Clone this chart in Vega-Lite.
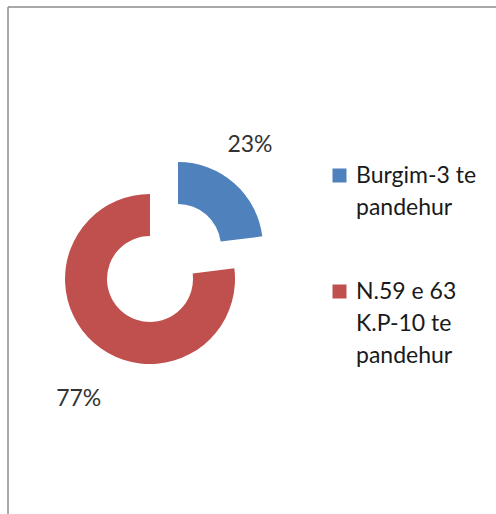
{
  "$schema": "https://vega.github.io/schema/vega-lite/v6.json",
  "width": 488,
  "height": 507,
  "padding": {"left": 8, "top": 7, "right": 0, "bottom": 0},
  "autosize": {"type": "none"},
  "background": "white",
  "view": {"stroke": null},
  "config": {
    "view": {"stroke": null},
    "style": {"guide-label": {"lineHeight": 32}}
  },
  "data": {
    "values": [
      {"category": "Burgim-3 te pandehur", "value": 23, "label": "23%"},
      {"category": "N.59 e 63 K.P-10 te pandehur", "value": 77, "label": "77%"}
    ]
  },
  "transform": [
    {"stack": "value", "groupby": [], "sort": [{"field": "category", "order": "ascending"}], "as": ["v0", "v1"]}
  ],
  "layer": [
    {
      "mark": {"type": "rule", "color": "#8c8c8c", "strokeWidth": 1},
      "encoding": {"x": {"value": 0}, "y": {"value": 0}, "y2": {"value": "height"}}
    },
    {
      "mark": {"type": "rule", "color": "#8c8c8c", "strokeWidth": 1},
      "encoding": {"y": {"value": 0}, "x": {"value": 0}, "x2": {"value": "width"}}
    },
    {
      "transform": [{"filter": "datum.category == 'N.59 e 63 K.P-10 te pandehur'"}],
      "mark": {"type": "arc", "x": 142, "y": 272, "radius": 85, "radius2": 43},
      "encoding": {
        "theta": {"field": "v0", "type": "quantitative", "scale": {"domain": [0, 100]}},
        "theta2": {"field": "v1"},
        "color": {
          "field": "category",
          "type": "nominal",
          "scale": {"domain": ["Burgim-3 te pandehur", "N.59 e 63 K.P-10 te pandehur"], "range": ["#4f81bd", "#c0504d"]},
          "legend": {
            "orient": "none",
            "legendX": 320,
            "legendY": 157,
            "title": null,
            "symbolType": "square",
            "symbolSize": 196,
            "symbolStrokeWidth": 0,
            "labelFont": "Lato",
            "labelFontSize": 23,
            "labelColor": "#1a1a1a",
            "labelLimit": 300,
            "labelOffset": 5,
            "rowPadding": 60,
            "labelExpr": "datum.label == 'Burgim-3 te pandehur' ? ['Burgim-3 te', 'pandehur'] : ['N.59 e 63', 'K.P-10 te', 'pandehur']"
          }
        }
      }
    },
    {
      "transform": [{"filter": "datum.category == 'Burgim-3 te pandehur'"}],
      "mark": {"type": "arc", "x": 170, "y": 240, "radius": 85, "radius2": 43},
      "encoding": {
        "theta": {"field": "v0", "type": "quantitative", "scale": {"domain": [0, 100]}},
        "theta2": {"field": "v1"},
        "color": {"field": "category", "type": "nominal"}
      }
    },
    {
      "mark": {"type": "text", "x": 160, "y": 231, "radius": 124, "font": "Lato", "fontSize": 23, "color": "#333333"},
      "encoding": {
        "theta": {"field": "value", "type": "quantitative", "stack": true},
        "detail": {"field": "category"},
        "order": {"field": "category"},
        "text": {"condition": {"test": "datum.category == 'Burgim-3 te pandehur'", "field": "label"}, "value": ""}
      }
    },
    {
      "mark": {"type": "text", "x": 162, "y": 288, "radius": 138, "font": "Lato", "fontSize": 23, "color": "#333333"},
      "encoding": {
        "theta": {"field": "value", "type": "quantitative", "stack": true},
        "detail": {"field": "category"},
        "order": {"field": "category"},
        "text": {"condition": {"test": "datum.category != 'Burgim-3 te pandehur'", "field": "label"}, "value": ""}
      }
    }
  ]
}
